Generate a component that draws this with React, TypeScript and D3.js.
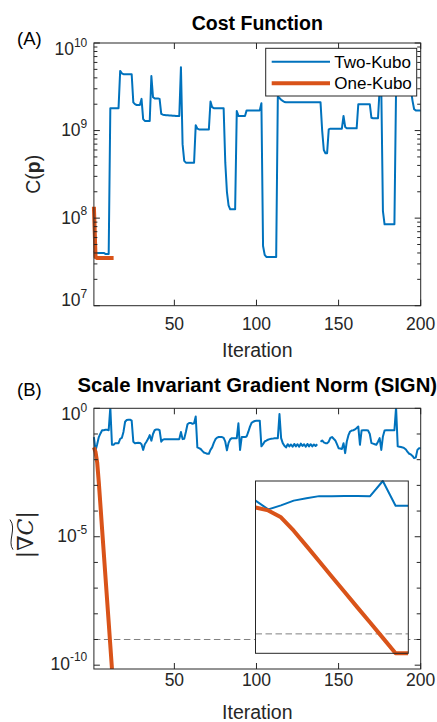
import React from 'react';
import * as d3 from 'd3';

// ---------------- data ----------------
const seriesNames = ['Two-Kubo', 'One-Kubo'];

// Cost function C(p) per iteration (Two-Kubo, iterations 1..200)
const costTwoKubo = [
  4.2e7, 4.0e7, 4.0e7, 4.0e7, 4.0e7, 4.0e7, 4.0e7, 3.9e7, 3.9e7, 3.9e7,
  1.8e9, 1.8e9, 1.8e9, 1.8e9, 1.8e9, 1.8e9, 4.8e9, 4.5e9, 4.4e9, 4.4e9,
  4.4e9, 4.4e9, 4.4e9, 4.4e9, 2.1e9, 2.0e9, 1.96e9, 1.96e9, 1.96e9, 2.3e9,
  1.35e9, 1.29e9, 1.29e9, 1.29e9, 1.29e9, 4.2e9, 2.4e9, 2.33e9, 2.33e9, 2.33e9,
  2.3e9, 1.55e9, 1.52e9, 1.51e9, 1.5e9, 1.5e9, 1.49e9, 1.49e9, 1.48e9, 1.48e9,
  1.47e9, 1.47e9, 1.47e9, 5.3e9, 7.0e8, 4.5e8, 4.3e8, 4.3e8, 4.3e8, 4.3e8,
  4.3e8, 4.3e8, 1.15e9, 1.05e9, 1.03e9, 1.03e9, 1.03e9, 1.03e9, 1.03e9, 1.03e9,
  1.03e9, 2.15e9, 1.85e9, 1.8e9, 1.8e9, 1.8e9, 1.8e9, 1.8e9, 1.8e9, 1.8e9,
  4.3e8, 2.0e8, 1.4e8, 1.26e8, 1.26e8, 1.26e8, 1.26e8, 1.67e9, 1.47e9, 1.47e9,
  1.47e9, 1.47e9, 1.47e9, 1.7e9, 1.7e9, 1.7e9, 1.7e9, 1.7e9, 1.7e9, 1.7e9,
  1.7e9, 1.7e9, 2.05e9, 4.8e7, 3.8e7, 3.6e7, 3.6e7, 3.6e7, 3.6e7, 3.6e7,
  3.6e7, 3.6e7, 2.45e9, 2.35e9, 2.25e9, 2.18e9, 2.12e9, 2.1e9, 2.1e9, 2.1e9,
  2.1e9, 2.1e9, 2.1e9, 2.1e9, 2.1e9, 2.1e9, 2.1e9, 2.1e9, 2.1e9, 2.1e9,
  2.1e9, 2.1e9, 2.1e9, 2.1e9, 2.1e9, 2.1e9, 2.1e9, 2.1e9, 2.1e9, 1.0e9,
  6.0e8, 5.5e8, 5.5e8, 1.03e9, 1.05e9, 1.05e9, 1.05e9, 1.05e9, 1.05e9, 1.05e9,
  1.05e9, 1.05e9, 1.47e9, 1.1e9, 1.06e9, 1.06e9, 1.06e9, 1.06e9, 1.06e9, 1.06e9,
  1.06e9, 2.0e9, 2.0e9, 2.0e9, 2.0e9, 2.0e9, 2.0e9, 2.0e9, 2.0e9, 1.4e9,
  1.38e9, 1.38e9, 1.38e9, 1.38e9, 3.0e9, 3.0e9, 1.2e8, 8.5e7, 8.5e7, 8.5e7,
  8.5e7, 8.5e7, 8.5e7, 8.5e7, 3.0e9, 3.0e9, 3.0e9, 3.0e9, 3.0e9, 3.0e9,
  3.0e9, 3.0e9, 3.0e9, 3.0e9, 2.2e9, 1.75e9, 1.7e9, 1.7e9, 1.7e9, 1.7e9,
];

// Cost function (One-Kubo, iterations 1..13)
const costOneKubo = [
  1.35e8, 3.6e7, 3.5e7, 3.5e7, 3.5e7, 3.5e7, 3.5e7, 3.5e7, 3.5e7, 3.5e7, 3.5e7, 3.5e7, 3.5e7,
];

// Scale invariant gradient norm (Two-Kubo, iterations 1..200; NaN = gap)
const signTwoKubo = [
  0.076, 0.023, 0.04, 0.076, 0.105, 0.14, 0.14, 0.145, 0.145, 0.14,
  1.1, 0.038, 0.038, 0.044, 0.044, 0.044, 0.065, 0.07, 0.12, 0.30,
  0.35, 0.36, 0.36, 0.33, 0.05, 0.044, 0.045, 0.046, 0.045, 0.04,
  0.024, 0.04, 0.05, 0.065, 0.09, 0.055, 0.1, 0.14, 0.15, 0.15,
  0.14, 0.05, 0.06, 0.063, 0.063, 0.063, 0.063, 0.063, 0.063, 0.063,
  0.063, 0.063, 0.063, 0.12, 0.063, 0.065, 0.12, 0.24, 0.27, 0.27,
  0.25, 0.26, 0.48, 0.03, 0.028, 0.026, 0.022, 0.019, 0.018, 0.017,
  0.017, 0.024, 0.03, 0.045, 0.062, 0.072, 0.076, 0.076, 0.076, 0.07,
  0.05, 0.023, 0.045, 0.062, 0.069, 0.069, 0.069, 0.069, 0.26, 0.024,
  0.076, 0.076, 0.076, 0.08, 0.12, 0.19, 0.27, 0.30, 0.32, 0.33,
  0.33, 0.33, 0.033, 0.04, 0.051, 0.055, 0.06, 0.063, 0.065, 0.066,
  0.068, 0.069, 0.069, 0.6, 0.069, 0.044, 0.035, 0.03, 0.04, 0.033,
  0.039, 0.032, 0.041, 0.033, 0.04, 0.032, 0.042, 0.034, 0.04, 0.032,
  0.041, 0.033, 0.04, 0.033, 0.039, 0.034, 0.04, NaN, 0.05, 0.056,
  0.047, 0.044, 0.044, 0.05, 0.07, 0.076, 0.065, 0.056, 0.04, 0.028,
  0.027, 0.026, 0.044, 0.018, 0.051, 0.09, 0.125, 0.136, 0.14, 0.15,
  0.17, 0.195, 0.038, 0.136, 0.14, 0.14, 0.14, 0.136, 0.1, 0.044,
  0.042, 0.04, 0.038, 0.05, 0.069, 0.024, 0.08, 0.136, 0.14, 0.14,
  0.14, 0.14, 0.14, 0.14, 1.1, 0.033, 0.032, 0.031, 0.03, 0.028,
  0.025, 0.02, 0.017, 0.016, 0.014, 0.0115, 0.012, 0.024, 0.028, 0.028,
];

// Scale invariant gradient norm (One-Kubo, iterations 1..13)
const signOneKubo = [
  0.030, 0.020, 7.8e-3, 1.26e-3, 1.6e-4, 1.95e-5, 2.4e-6, 3.0e-7, 3.7e-8, 4.7e-9, 5.8e-10, 7.2e-11, 7.1e-11,
];

const xTickValues = [50, 100, 150, 200];
const costTickExps = [7, 8, 9, 10];
const signTickExps = [0, -1, -2, -3, -4, -5, -6, -7, -8, -9, -10];
const signLabelExps = [0, -5, -10];
const minorMultipliers = [2, 3, 4, 5, 6, 7, 8, 9];
const threshold = 1e-9;

// ---------------- style ----------------
const BLUE = '#0072BD';
const ORANGE = '#D95319';
const AX = '#262626';
const FONT = '"Liberation Sans", Arial, Helvetica, sans-serif';
const TICK_FS = 17.5;
const SUP_FS = 12;
const LABEL_FS = 19.5;

type Box = { l: number; r: number; t: number; b: number };

function Pow10Label({ x, y, exp }: { x: number; y: number; exp: number }) {
  return (
    <text x={x} y={y} textAnchor="end" fontFamily={FONT} fontSize={TICK_FS} fill={AX}>
      10
      <tspan dy={-8.5} fontSize={SUP_FS}>{String(exp)}</tspan>
    </text>
  );
}

function Frame({
  box,
  x,
  y,
  majors,
  minors,
  labelExps,
  xLabelBaseline,
}: {
  box: Box;
  x: d3.ScaleLinear<number, number>;
  y: d3.ScaleLogarithmic<number, number>;
  majors: number[];
  minors: number[];
  labelExps: number[];
  xLabelBaseline: number;
}) {
  const maj = 6;
  const mn = 3.5;
  const [y0, y1] = y.domain();
  const inY = (v: number) => v >= Math.min(y0, y1) * 0.999 && v <= Math.max(y0, y1) * 1.001;
  return (
    <g>
      {xTickValues.map((v) => (
        <g key={'x' + v}>
          <line x1={x(v)} x2={x(v)} y1={box.b} y2={box.b - maj} stroke={AX} strokeWidth={1} />
          <line x1={x(v)} x2={x(v)} y1={box.t} y2={box.t + maj} stroke={AX} strokeWidth={1} />
          <text x={x(v)} y={xLabelBaseline} textAnchor="middle" fontFamily={FONT} fontSize={TICK_FS} fill={AX}>
            {v}
          </text>
        </g>
      ))}
      {majors.filter(inY).map((v, i) => {
        const labeled = labelExps.some((e) => Math.abs(Math.log10(v) - e) < 1e-6);
        const len = labeled ? maj : 4;
        return (
          <g key={'ym' + i}>
            <line x1={box.l} x2={box.l + len} y1={y(v)} y2={y(v)} stroke={AX} strokeWidth={1} />
            <line x1={box.r} x2={box.r - len} y1={y(v)} y2={y(v)} stroke={AX} strokeWidth={1} />
          </g>
        );
      })}
      {minors.filter(inY).map((v, i) => (
        <g key={'yn' + i}>
          <line x1={box.l} x2={box.l + mn} y1={y(v)} y2={y(v)} stroke={AX} strokeWidth={1} />
          <line x1={box.r} x2={box.r - mn} y1={y(v)} y2={y(v)} stroke={AX} strokeWidth={1} />
        </g>
      ))}
      {labelExps.map((e) => {
        const ty = y(Math.pow(10, e));
        const base = Math.min(Math.max(ty + 5.5, box.t + 12), box.b + 0.5);
        return <Pow10Label key={'yl' + e} x={box.l - 6.6} y={base} exp={e} />;
      })}
      <rect x={box.l} y={box.t} width={box.r - box.l} height={box.b - box.t} fill="none" stroke={AX} strokeWidth={1} />
    </g>
  );
}

export default function App() {
  const W = 437;
  const H = 722;
  const topBox: Box = { l: 93.9, r: 420.7, t: 43, b: 305.7 };
  const botBox: Box = { l: 93.9, r: 420.7, t: 408.3, b: 669 };
  const inBox: Box = { l: 255.5, r: 408.3, t: 481, b: 653.3 };

  const xTop = d3.scaleLinear().domain([1, costTwoKubo.length]).range([topBox.l, topBox.r]);
  const yTop = d3
    .scaleLog()
    .domain([Math.pow(10, costTickExps[0]), Math.pow(10, costTickExps[costTickExps.length - 1])])
    .range([topBox.b, topBox.t]);

  const gradMin = d3.min(signOneKubo) as number;
  const xBot = d3.scaleLinear().domain([1, signTwoKubo.length]).range([botBox.l, botBox.r]);
  const yBot = d3.scaleLog().domain([gradMin, 1]).range([botBox.b, botBox.t]);

  const nIn = signOneKubo.length;
  const xIn = d3.scaleLinear().domain([1, nIn]).range([inBox.l, inBox.r]);
  const yIn = d3
    .scaleLog()
    .domain([gradMin, d3.max(signTwoKubo.slice(0, nIn)) as number])
    .range([inBox.b, inBox.t]);

  const mkLine = (x: d3.ScaleLinear<number, number>, y: d3.ScaleLogarithmic<number, number>) =>
    d3
      .line<number>()
      .defined((v) => v != null && !isNaN(v) && v > 0)
      .x((_, i) => x(i + 1))
      .y((v) => y(v));

  const topLine = mkLine(xTop, yTop);
  const botLine = mkLine(xBot, yBot);
  const inLine = mkLine(xIn, yIn);

  const costMajors = costTickExps.map((e) => Math.pow(10, e));
  const costMinors = costTickExps.slice(0, -1).flatMap((e) => minorMultipliers.map((m) => m * Math.pow(10, e)));
  const signMajors = signTickExps.map((e) => Math.pow(10, e));

  const legendBox = { l: 265.7, r: 416.7, t: 48.3, b: 96 };
  const legendRows = [61.7, 83.3];
  const legendColors = [BLUE, ORANGE];
  const legendWidths = [2, 4];

  const dash = '6.5,3.5';
  const pad = 3; // lines may spill horizontally past the axes by their width

  return (
    <svg
      width={W}
      height={H}
      viewBox={`0 0 ${W} ${H}`}
      style={{ position: 'absolute', left: 0, top: 0, background: '#fff' }}
    >
      <defs>
        <clipPath id="clipTop">
          <rect x={topBox.l - pad} y={topBox.t} width={topBox.r - topBox.l + 2 * pad} height={topBox.b - topBox.t} />
        </clipPath>
        <clipPath id="clipBot">
          <rect x={botBox.l - pad} y={botBox.t} width={botBox.r - botBox.l + 2 * pad} height={botBox.b - botBox.t} />
        </clipPath>
        <clipPath id="clipIn">
          <rect x={inBox.l} y={inBox.t - pad} width={inBox.r - inBox.l} height={inBox.b - inBox.t + 2 * pad} />
        </clipPath>
      </defs>
      <rect x={0} y={0} width={W} height={H} fill="#fff" />

      {/* ---------- Panel A ---------- */}
      <text x={(topBox.l + topBox.r) / 2} y={30} textAnchor="middle" fontFamily={FONT} fontWeight="bold" fontSize={19.5} fill="#000">
        Cost Function
      </text>
      <text x={17} y={45} fontFamily={FONT} fontSize={18.5} fill="#000">
        (A)
      </text>
      <g clipPath="url(#clipTop)">
        <path d={topLine(costTwoKubo) || ''} fill="none" stroke={BLUE} strokeWidth={2} strokeLinejoin="round" />
        <path d={topLine(costOneKubo) || ''} fill="none" stroke={ORANGE} strokeWidth={4} strokeLinejoin="round" />
      </g>
      <Frame box={topBox} x={xTop} y={yTop} majors={costMajors} minors={costMinors} labelExps={costTickExps} xLabelBaseline={330} />
      <text x={(topBox.l + topBox.r) / 2} y={356.7} textAnchor="middle" fontFamily={FONT} fontSize={LABEL_FS} fill={AX}>
        Iteration
      </text>
      <text
        transform={`translate(39.5,${(topBox.t + topBox.b) / 2}) rotate(-90)`}
        textAnchor="middle"
        fontFamily={FONT}
        fontSize={LABEL_FS}
        fill={AX}
      >
        C(<tspan fontWeight="bold">p</tspan>)
      </text>

      {/* legend */}
      <rect
        x={legendBox.l}
        y={legendBox.t}
        width={legendBox.r - legendBox.l}
        height={legendBox.b - legendBox.t}
        fill="#fff"
        stroke={AX}
        strokeWidth={1}
      />
      {seriesNames.map((name, i) => (
        <g key={name}>
          <line x1={271.7} x2={330} y1={legendRows[i]} y2={legendRows[i]} stroke={legendColors[i]} strokeWidth={legendWidths[i]} />
          <text x={334.3} y={legendRows[i] + 6} fontFamily={FONT} fontSize={17} fill="#000">
            {name}
          </text>
        </g>
      ))}

      {/* ---------- Panel B ---------- */}
      <text x={(botBox.l + botBox.r) / 2} y={392} textAnchor="middle" fontFamily={FONT} fontWeight="bold" fontSize={20.3} fill="#000">
        Scale Invariant Gradient Norm (SIGN)
      </text>
      <text x={17} y={396} fontFamily={FONT} fontSize={18.5} fill="#000">
        (B)
      </text>
      <g clipPath="url(#clipBot)">
        <line x1={botBox.l} x2={botBox.r} y1={yBot(threshold)} y2={yBot(threshold)} stroke="#808080" strokeWidth={1} strokeDasharray={dash} />
        <path d={botLine(signTwoKubo) || ''} fill="none" stroke={BLUE} strokeWidth={2} strokeLinejoin="round" />
        <path d={botLine(signOneKubo) || ''} fill="none" stroke={ORANGE} strokeWidth={4} strokeLinejoin="round" />
      </g>
      <Frame box={botBox} x={xBot} y={yBot} majors={signMajors} minors={[]} labelExps={signLabelExps} xLabelBaseline={685.5} />
      <text x={(botBox.l + botBox.r) / 2} y={719} textAnchor="middle" fontFamily={FONT} fontSize={LABEL_FS} fill={AX}>
        Iteration
      </text>
      <g transform={`translate(33,${(botBox.t + botBox.b) / 2 - 4}) rotate(-90)`}>
        <text x={0} y={0} textAnchor="middle" fontFamily='"DejaVu Serif", serif' fontSize={22} fill={AX}>
          |∇<tspan fontStyle="italic">C</tspan>|
        </text>
        <path d="M-15,-20 C-7,-26 6,-16 15,-23" fill="none" stroke={AX} strokeWidth={1} />
      </g>

      {/* inset */}
      <rect x={inBox.l} y={inBox.t} width={inBox.r - inBox.l} height={inBox.b - inBox.t} fill="#fff" />
      <g clipPath="url(#clipIn)">
        <line x1={inBox.l} x2={inBox.r} y1={yIn(threshold)} y2={yIn(threshold)} stroke="#808080" strokeWidth={1} strokeDasharray={dash} />
        <path d={inLine(signTwoKubo.slice(0, nIn)) || ''} fill="none" stroke={BLUE} strokeWidth={2} strokeLinejoin="round" />
        <path d={inLine(signOneKubo) || ''} fill="none" stroke={ORANGE} strokeWidth={4} strokeLinejoin="round" />
      </g>
      <rect x={inBox.l} y={inBox.t} width={inBox.r - inBox.l} height={inBox.b - inBox.t} fill="none" stroke={AX} strokeWidth={1} />
    </svg>
  );
}
